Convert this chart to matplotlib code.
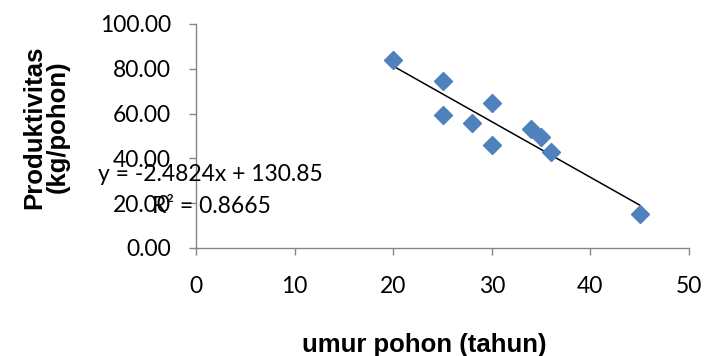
import numpy as np
import matplotlib
matplotlib.use("Agg")
import matplotlib.pyplot as plt

# umur pohon (tahun) vs produktivitas (kg/pohon)
umur = [20, 25, 25, 28, 30, 30, 34, 35, 36, 45]
produktivitas = [84.0, 74.6, 59.4, 55.7, 64.6, 46.0, 53.0, 49.4, 43.0, 15.0]

slope = -2.4824
intercept = 130.85
r2 = 0.8665

xticks = [0, 10, 20, 30, 40, 50]
yticks = [0, 20, 40, 60, 80, 100]

tick_font = "Lato"
label_font = "Liberation Sans"
grey = "#868686"

fig = plt.figure(figsize=(7.19, 3.56), dpi=100)
ax = fig.add_axes([0.2726, 0.3034, 0.6857, 0.6292])

ax.plot(umur, produktivitas, linestyle="none", marker="D", markersize=9.5,
        color="#4F81BD", zorder=3)

# linear trendline over the data range
xs = np.array([min(umur), max(umur)])
ax.plot(xs, slope * xs + intercept, color="black", linewidth=1.1, zorder=2)

ax.set_xlim(0, 50)
ax.set_ylim(0, 100)
ax.set_xticks(xticks)
ax.set_yticks(yticks)
ax.set_xticklabels([str(t) for t in xticks], fontname=tick_font, fontsize=16.5)
ax.set_yticklabels([f"{t:.2f}" for t in yticks], fontname=tick_font, fontsize=16.5)

for side in ["top", "right"]:
    ax.spines[side].set_visible(False)
for side in ["left", "bottom"]:
    ax.spines[side].set_color(grey)
    ax.spines[side].set_linewidth(1.0)
ax.tick_params(axis="both", direction="out", length=5, width=1.0, color=grey)
ax.tick_params(axis="x", pad=15)
ax.tick_params(axis="y", pad=13)

ax.set_xlabel("umur pohon (tahun)", fontname=label_font, fontweight="bold",
              fontsize=18.5)
ax.xaxis.set_label_coords(0.462, -0.379)
ax.set_ylabel("Produktivitas\n(kg/pohon)", fontname=label_font, fontweight="bold",
              fontsize=18.5, linespacing=1.0)
ax.yaxis.set_label_coords(-0.2556, 0.54)

# trendline equation, placed where Excel left it (overlapping the y ticks)
ax.text(-9.9, 32.6, f"y = {slope}x + {intercept}", fontname=tick_font,
        fontsize=16.5, ha="left", va="center", clip_on=False)
ax.text(-4.5, 18.3, f"R² = {r2}", fontname=tick_font, fontsize=16.5,
        ha="left", va="center", clip_on=False)

fig.savefig("out.png", dpi=100)
